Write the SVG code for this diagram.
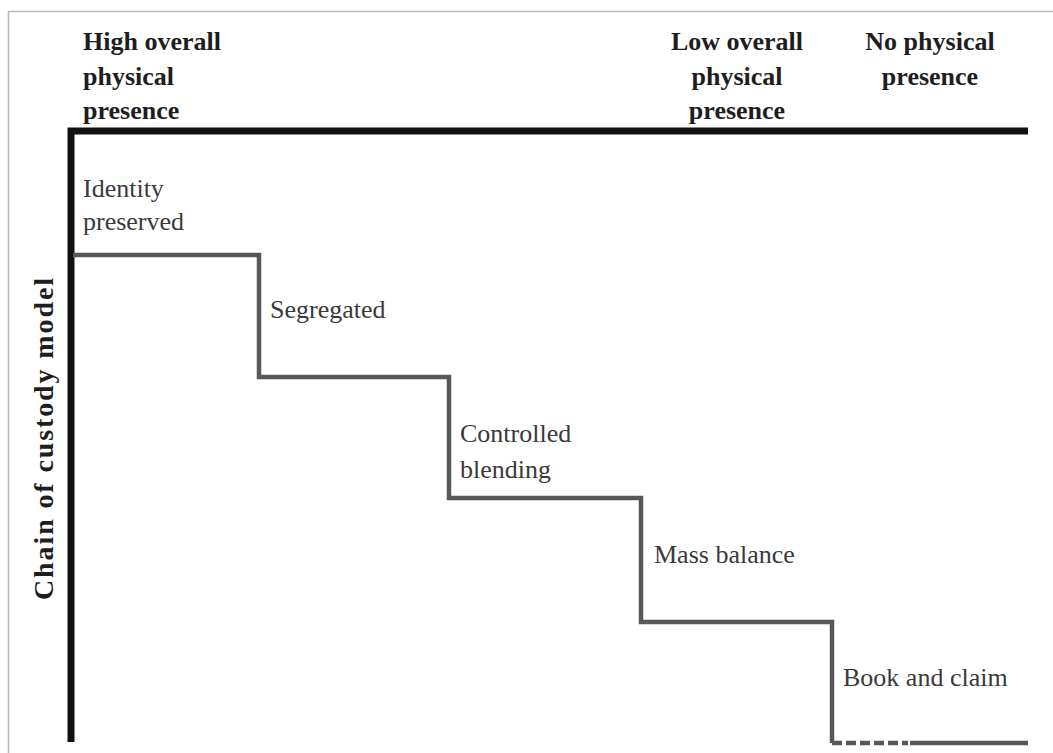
<svg xmlns="http://www.w3.org/2000/svg" width="1053" height="753" viewBox="0 0 1053 753">
<style>
.hdr{font-family:"Liberation Serif",serif;font-weight:bold;font-size:26px;fill:#1e1e1e}
.lbl{font-family:"Liberation Serif",serif;font-size:26px;fill:#3a3a3a}
.step{fill:none;stroke:#585858;stroke-width:4.5;stroke-linejoin:miter}
.axis{fill:none;stroke:#111;stroke-width:7}
</style>
<rect width="1053" height="753" fill="#fff"/>
<g id="frame"><path d="M8.5 753 V11.5 H1053" fill="none" stroke="#b4bcbc" stroke-width="1.5"/></g>
<g id="axes"><path class="axis" d="M71 742 V131 H1028"/></g>
<g id="col-high"><text class="hdr" x="83" y="50">High overall</text><text class="hdr" x="83" y="85">physical</text><text class="hdr" x="83" y="119">presence</text></g>
<g id="col-low"><text class="hdr" x="737" y="50" text-anchor="middle">Low overall</text><text class="hdr" x="737" y="85" text-anchor="middle">physical</text><text class="hdr" x="737" y="119" text-anchor="middle">presence</text></g>
<g id="col-none"><text class="hdr" x="930" y="50" text-anchor="middle">No physical</text><text class="hdr" x="930" y="85" text-anchor="middle">presence</text></g>
<g id="y-label"><text class="hdr" style="font-size:28px" transform="translate(53,439) rotate(-90)" text-anchor="middle" textLength="322" lengthAdjust="spacing">Chain of custody model</text></g>
<g id="connectors">
<path class="step" d="M73 255 H259 V377 H449 V498 H641 V622 H832 V743"/>
<path class="step" d="M832 743 H908" stroke-dasharray="10,4"/>
<path class="step" d="M910 743 H1028"/>
</g>
<g id="identity"><text class="lbl" x="83" y="197">Identity</text><text class="lbl" x="83" y="230">preserved</text></g>
<g id="segregated"><text class="lbl" x="270" y="318">Segregated</text></g>
<g id="controlled"><text class="lbl" x="460" y="442">Controlled</text><text class="lbl" x="460" y="478">blending</text></g>
<g id="mass"><text class="lbl" x="654" y="563">Mass balance</text></g>
<g id="book"><text class="lbl" x="843" y="686">Book and claim</text></g>
</svg>
